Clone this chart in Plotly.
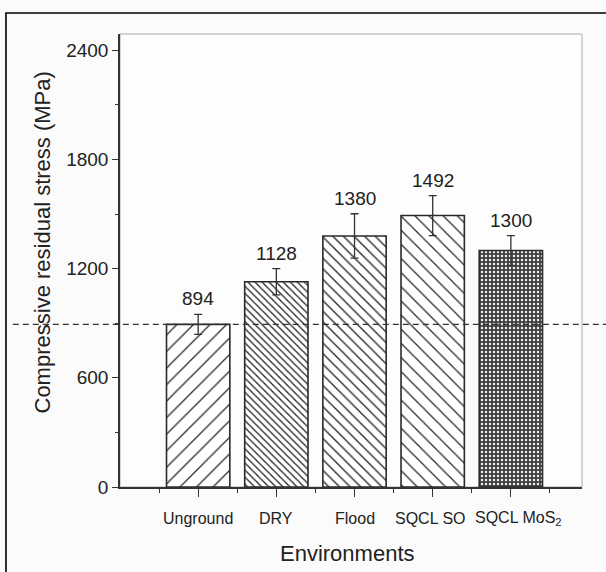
import plotly.graph_objects as go

categories = ["Unground", "DRY", "Flood", "SQCL SO", "SQCL MoS<sub>2</sub>"]
values = [894, 1128, 1380, 1492, 1300]
errors = [55, 72, 122, 110, 82]
labels = ["894", "1128", "1380", "1492", "1300"]
ref_value = 894
y_ticks = [0, 600, 1200, 1800, 2400]

pat_shapes = ["/", "\\", "\\", "\\", "."]
pat_sizes = [11.7, 5, 7.5, 10, 4]
pat_solid = [0.11, 0.27, 0.18, 0.13, 0.3]
pat_fg = ["#2a2a2a", "#2a2a2a", "#2a2a2a", "#2a2a2a", "#eeeeee"]
pat_bg = ["white", "white", "white", "white", "#404040"]
label_shift = [0, 0, 0, -2, 8]

FONT = "Liberation Sans, Arial"
xpos = list(range(len(categories)))
fig = go.Figure()
fig.add_trace(go.Bar(
    x=xpos, y=values, width=0.81,
    marker=dict(color="white", line=dict(color="#2a2a2a", width=1.6),
                pattern=dict(shape=pat_shapes, size=pat_sizes, solidity=pat_solid,
                             fgcolor=pat_fg, bgcolor=pat_bg, fillmode="replace")),
    error_y=dict(type="data", array=errors, visible=True, color="#333", thickness=1.3, width=4),
    showlegend=False,
))
for x, v, e, t in zip(xpos, values, errors, labels):
    fig.add_annotation(x=x, y=v + e, text=t, showarrow=False, yanchor="bottom", yshift=3,
                       font=dict(family=FONT, size=19, color="#222"))
# category labels under the axis
for x, c, s in zip(xpos, categories, label_shift):
    fig.add_annotation(x=x, xref="x", y=0, yref="paper", text=c, showarrow=False,
                       yanchor="middle", yshift=-31, xshift=s,
                       font=dict(family=FONT, size=16, color="#222"))
fig.add_annotation(x=0.5, xref="paper", y=0, yref="paper", text="Environments", showarrow=False,
                   yanchor="middle", yshift=-66, xshift=-4, font=dict(family=FONT, size=22, color="#222"))
fig.add_annotation(x=0, xref="paper", y=0.5, yref="paper", text="Compressive residual stress (MPa)",
                   showarrow=False, textangle=-90, xanchor="center", yanchor="middle",
                   xshift=-78, yshift=18, font=dict(family=FONT, size=22, color="#222"))

fig.add_shape(type="line", xref="paper", yref="y", x0=-0.232, x1=1.06, y0=ref_value, y1=ref_value,
              line=dict(color="#333", width=1.3, dash="6px,4px"))
# plot frame (light top/right)
fig.add_shape(type="rect", xref="paper", yref="paper", x0=0, x1=1, y0=0, y1=1,
              line=dict(color="#aaa", width=1), layer="below")
# outer figure frame
fig.add_shape(type="rect", xref="paper", yref="paper", x0=-0.2468, x1=1.1, y0=-0.3, y1=1.0462,
              line=dict(color="black", width=1.6))

fig.update_layout(
    width=606, height=572,
    margin=dict(l=120, r=24, t=34, b=85),
    paper_bgcolor="#fbfbfb", plot_bgcolor="#fdfdfd",
    font=dict(family=FONT, color="#222"),
    xaxis=dict(range=[-1.0, 4.91], tickvals=xpos, showticklabels=False, automargin=False,
               ticks="outside", ticklen=8, tickwidth=1.3, tickcolor="#333",
               minor=dict(tickvals=[-0.5, 0.5, 1.5, 2.5, 3.5, 4.5], ticks="outside", ticklen=4, tickcolor="#333"),
               showline=True, linecolor="#333", linewidth=1.5, showgrid=False, zeroline=False),
    yaxis=dict(range=[0, 2490], tickvals=y_ticks, automargin=False,
               ticks="outside", ticklen=6, tickwidth=1.3, tickcolor="#333",
               minor=dict(dtick=300, tick0=0, ticks="outside", ticklen=3, tickcolor="#333"),
               showline=True, linecolor="#333", linewidth=1.5, showgrid=False, zeroline=False,
               tickfont=dict(size=19)),
)
fig.write_html("out.html")
